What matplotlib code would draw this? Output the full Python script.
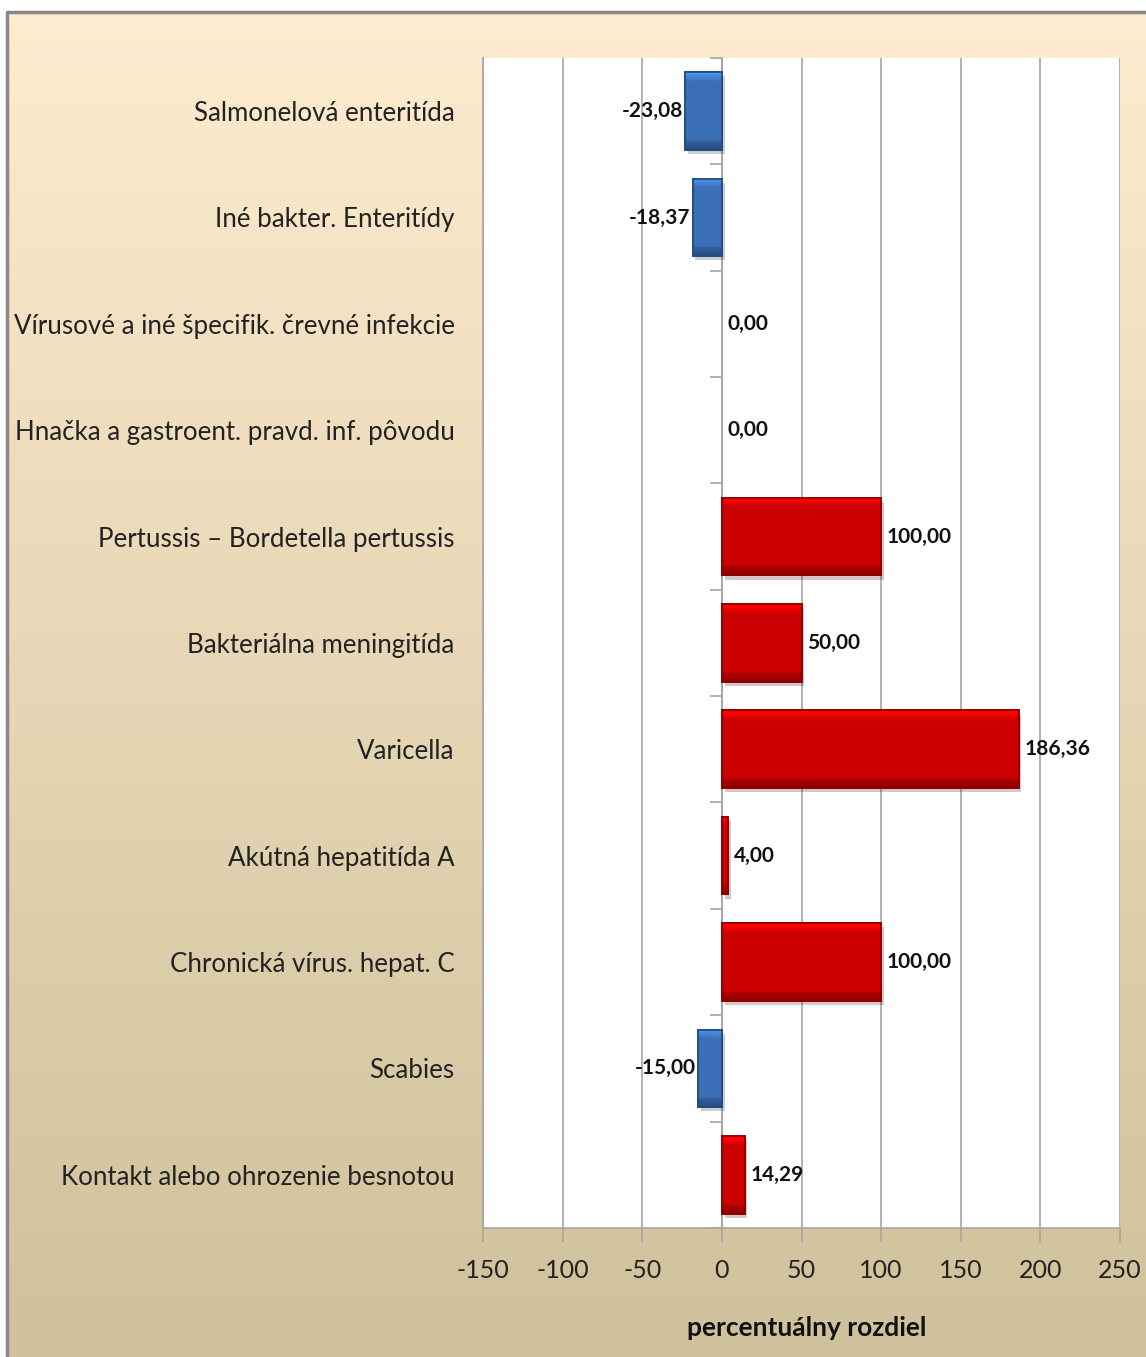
import numpy as np
import matplotlib
matplotlib.use("Agg")
import matplotlib.pyplot as plt
import matplotlib.patheffects as pe
from matplotlib.colors import to_rgb

categories = [
    "Salmonelová enteritída",
    "Iné bakter. Enteritídy",
    "Vírusové a iné špecifik. črevné infekcie",
    "Hnačka a gastroent. pravd. inf. pôvodu",
    "Pertussis – Bordetella pertussis",
    "Bakteriálna meningitída",
    "Varicella",
    "Akútná hepatitída A",
    "Chronická vírus. hepat. C",
    "Scabies",
    "Kontakt alebo ohrozenie besnotou",
]
values = [-23.08, -18.37, 0.00, 0.00, 100.00, 50.00, 186.36, 4.00, 100.00, -15.00, 14.29]
xticks = [-150, -100, -50, 0, 50, 100, 150, 200, 250]

FONT = ["Lato", "DejaVu Sans"]

fig = plt.figure(figsize=(11.46, 13.57), dpi=100)

# background with gradient and gray frame
bg = fig.add_axes([0, 0, 1, 1], zorder=-10)
bg.set_xlim(0, 1146)
bg.set_ylim(1357, 0)
bg.axis("off")
top_c = np.array([253, 236, 207]) / 255
bot_c = np.array([207, 193, 155]) / 255
t = np.linspace(0, 1, 256)[:, None, None]
grad = top_c * (1 - t) + bot_c * t
bg.imshow(grad, extent=[8, 1146, 1357, 13], aspect="auto")
bg.plot([7, 7, 1146], [1357, 12, 12], color="#888888", lw=2.5)

ax = fig.add_axes([0.4215, 0.0951, 0.5558, 0.8622])
ax.set_facecolor("white")

# spines first (moving a spine resets the ticks)
ax.spines["top"].set_visible(False)
ax.spines["right"].set_position(("data", 0))
for side in ["right", "left", "bottom"]:
    ax.spines[side].set_color("#a6a6a6")
    ax.spines[side].set_linewidth(1.2)

y = np.arange(len(categories))
colors = ["#3b6fb6" if v < 0 else "#cc0000" for v in values]
edges = ["#23497e" if v < 0 else "#8a0000" for v in values]
bars = ax.barh(y, values, height=0.73, color=colors, edgecolor=edges, linewidth=1.2, zorder=3)

# bevel-like shading clipped to each bar
for b, c in zip(bars, colors):
    if b.get_width() == 0:
        b.set_visible(False)
        continue
    b.set_path_effects([pe.SimplePatchShadow(offset=(2, -3), alpha=0.22), pe.Normal()])
    base = np.array(to_rgb(c))
    s = np.linspace(0, 1, 100)
    f = np.ones_like(s)
    f[s < 0.12] = 1.35 - s[s < 0.12] * 2.9
    f[s > 0.88] = 0.88 - (s[s > 0.88] - 0.88) * 1.5
    img = np.clip(base[None, :] * f[:, None], 0, 1)[:, None, :]
    x0, x1 = sorted([b.get_x(), b.get_x() + b.get_width()])
    y0, y1 = b.get_y(), b.get_y() + b.get_height()
    im = ax.imshow(img, extent=[x0, x1, y1, y0], aspect="auto", zorder=4)
    im.set_clip_path(b)
    ax.barh(b.get_y() + b.get_height() / 2, b.get_width(), height=b.get_height(),
            fill=False, edgecolor=b.get_edgecolor(), linewidth=1.2, zorder=5)

for yi, v in zip(y, values):
    txt = f"{v:.2f}".replace(".", ",")
    if v < 0:
        ax.text(v - 1.5, yi, txt, ha="right", va="center", fontsize=15,
                fontweight="bold", family=FONT, color="#111111", zorder=6)
    else:
        ax.text(v + 3.5, yi, txt, ha="left", va="center", fontsize=15,
                fontweight="bold", family=FONT, color="#111111", zorder=6)

ax.set_xlim(-150, 250)
ax.set_ylim(len(categories) - 0.5, -0.5)
ax.xaxis.grid(True, color="#a6a6a6", lw=1.2, zorder=0)
ax.set_axisbelow(True)

ax.tick_params(axis="y", which="major", left=False, right=False, pad=17)
ax.tick_params(axis="y", which="minor", left=False, right=True, direction="in",
               length=9, color="#a6a6a6", width=1.2)
ax.tick_params(axis="x", which="major", length=10, color="#a6a6a6", width=1.2, pad=12)

ax.set_xticks(xticks)
ax.set_xticklabels([str(v) for v in xticks], family=FONT, fontsize=18, color="#222222")
ax.set_yticks(np.arange(len(categories) + 1) - 0.5, minor=True)
ax.set_yticks(y)
ax.set_yticklabels(categories, family=FONT, fontsize=18.6, color="#222222")

ax.set_xlabel("percentuálny rozdiel", family=FONT, fontsize=19, fontweight="bold",
              color="#111111", labelpad=20)
ax.xaxis.set_label_coords(0.508, -0.075)

fig.savefig("out.png", dpi=100)
